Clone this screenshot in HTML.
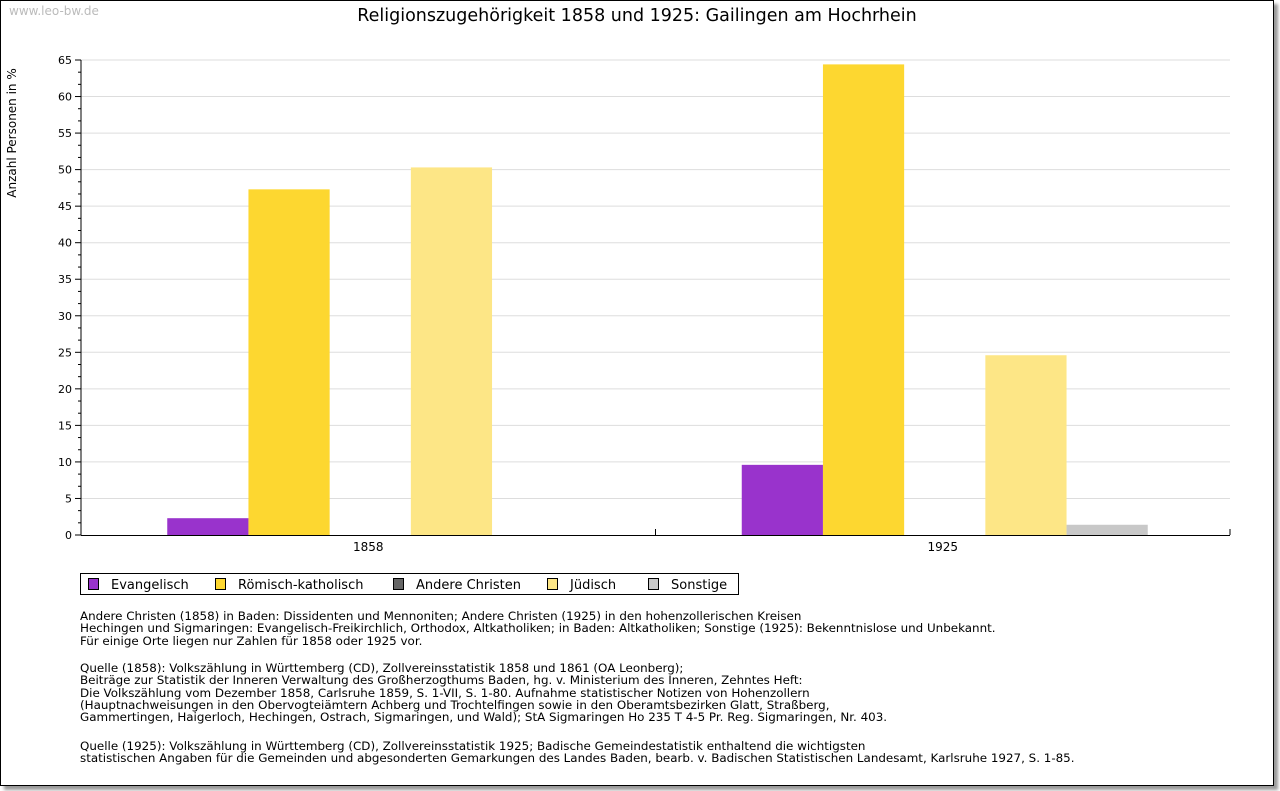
<!DOCTYPE html>
<html><head><meta charset="utf-8"><style>
body{margin:0;background:#fff;width:1280px;height:791px;overflow:hidden;font-family:"DejaVu Sans",sans-serif;}
#frame{position:absolute;left:0;top:0;width:1272px;height:784px;border:1px solid #000;box-shadow:4px 4px 3px #999;background:#fff;}
.notes{position:absolute;left:80px;font-size:11.9px;line-height:12.3px;color:#000;white-space:pre;}
</style></head><body>
<div id="frame"></div>
<svg id="chart" width="1280" height="791" style="position:absolute;left:0;top:0" font-family="DejaVu Sans, sans-serif">
<text x="9" y="15" font-size="12" fill="#bbb">www.leo-bw.de</text>
<text x="637" y="21" font-size="17.5" text-anchor="middle">Religionszugehörigkeit 1858 und 1925: Gailingen am Hochrhein</text>
<text transform="translate(16,133) rotate(-90)" font-size="12" text-anchor="middle">Anzahl Personen in %</text>
<g id="grid"></g><g id="bars"></g><g id="axes"></g>
<g id="legend"></g>
</svg>
<div class="notes" style="top:610px">Andere Christen (1858) in Baden: Dissidenten und Mennoniten; Andere Christen (1925) in den hohenzollerischen Kreisen
Hechingen und Sigmaringen: Evangelisch-Freikirchlich, Orthodox, Altkatholiken; in Baden: Altkatholiken; Sonstige (1925): Bekenntnislose und Unbekannt.
Für einige Orte liegen nur Zahlen für 1858 oder 1925 vor.</div>
<div class="notes" style="top:662px">Quelle (1858): Volkszählung in Württemberg (CD), Zollvereinsstatistik 1858 und 1861 (OA Leonberg);
Beiträge zur Statistik der Inneren Verwaltung des Großherzogthums Baden, hg. v. Ministerium des Inneren, Zehntes Heft:
Die Volkszählung vom Dezember 1858, Carlsruhe 1859, S. 1-VII, S. 1-80. Aufnahme statistischer Notizen von Hohenzollern
(Hauptnachweisungen in den Obervogteiämtern Achberg und Trochtelfingen sowie in den Oberamtsbezirken Glatt, Straßberg,
Gammertingen, Haigerloch, Hechingen, Ostrach, Sigmaringen, und Wald); StA Sigmaringen Ho 235 T 4-5 Pr. Reg. Sigmaringen, Nr. 403.</div>
<div class="notes" style="top:740px">Quelle (1925): Volkszählung in Württemberg (CD), Zollvereinsstatistik 1925; Badische Gemeindestatistik enthaltend die wichtigsten
statistischen Angaben für die Gemeinden und abgesonderten Gemarkungen des Landes Baden, bearb. v. Badischen Statistischen Landesamt, Karlsruhe 1927, S. 1-85.</div>
<script>
const categories=["1858","1925"];
const seriesNames=["Evangelisch","Römisch-katholisch","Andere Christen","Jüdisch","Sonstige"];
const seriesColors=["#9933cc","#fdd730","#666666","#fde686","#c8c8c8"];
const evangelisch=[2.3,9.6];
const roemisch=[47.3,64.4];
const andere=[0,0];
const juedisch=[50.3,24.6];
const sonstige=[0,1.4];
const yTicks=[0,5,10,15,20,25,30,35,40,45,50,55,60,65];
const series=[evangelisch,roemisch,andere,juedisch,sonstige];
const NS="http://www.w3.org/2000/svg";
const X0=81,X1=1230,Y0=535,Y1=60,YMAX=65;
const y=v=>Y0-(v/YMAX)*(Y0-Y1);
const catW=(X1-X0)/categories.length;
const barW=81.2;
const x=(c,s)=>X0+2+c*catW+(catW-barW*series.length)/2+s*barW;
function mk(tag,a,p){const e=document.createElementNS(NS,tag);for(const k in a)e.setAttribute(k,a[k]);p.appendChild(e);return e;}
const grid=document.getElementById('grid'),bars=document.getElementById('bars'),axes=document.getElementById('axes'),leg=document.getElementById('legend');
yTicks.forEach(t=>{
 if(t>0){const g=mk('line',{x1:X0,x2:X1,y1:y(t),y2:y(t),stroke:'#ddd'},grid);
 
 }
 mk('line',{x1:X0-6,x2:X0,y1:y(t),y2:y(t),stroke:'#000'},axes);
 const tx=mk('text',{x:X0-9,y:y(t)+4,'font-size':11,'text-anchor':'end'},axes);tx.textContent=t;
 
 
 if(t<YMAX){for(let k=1;k<3;k++){mk('line',{x1:X0-3,x2:X0,y1:y(t+k*5/3),y2:y(t+k*5/3),stroke:'#000'},axes);}}
});
series.forEach((vals,s)=>vals.forEach((v,c)=>{
 if(v<=0)return;
 const r=mk('rect',{x:x(c,s),y:y(v),width:barW,height:Y0-y(v),fill:seriesColors[s]},bars);
 
 
}));
mk('line',{x1:X0,x2:X0,y1:Y1,y2:Y0,stroke:'#000'},axes);
mk('line',{x1:X0,x2:X1,y1:Y0+0.5,y2:Y0+0.5,stroke:'#000'},axes);
categories.forEach((c,i)=>{
 const t=mk('text',{x:X0+(i+0.5)*catW,y:Y0+16,'font-size':12,'text-anchor':'middle'},axes);t.textContent=c;
 
 
 mk('line',{x1:X0+(i+1)*catW,x2:X0+(i+1)*catW,y1:Y0-6,y2:Y0,stroke:'#000'},axes);
});
const lb=mk('rect',{x:80.5,y:573.5,width:658,height:21,fill:'#fff',stroke:'#000'},leg);


const lx=[88,215,393,547,648];
seriesNames.forEach((n,i)=>{
 const g=mk('g',{},leg);
 
 
 mk('rect',{x:lx[i]+0.5,y:578.5,width:10,height:11,fill:seriesColors[i],stroke:'#000'},g);
 const t=mk('text',{x:lx[i]+23,y:589,'font-size':13},g);t.textContent=n;
});
</script>
</body></html>
